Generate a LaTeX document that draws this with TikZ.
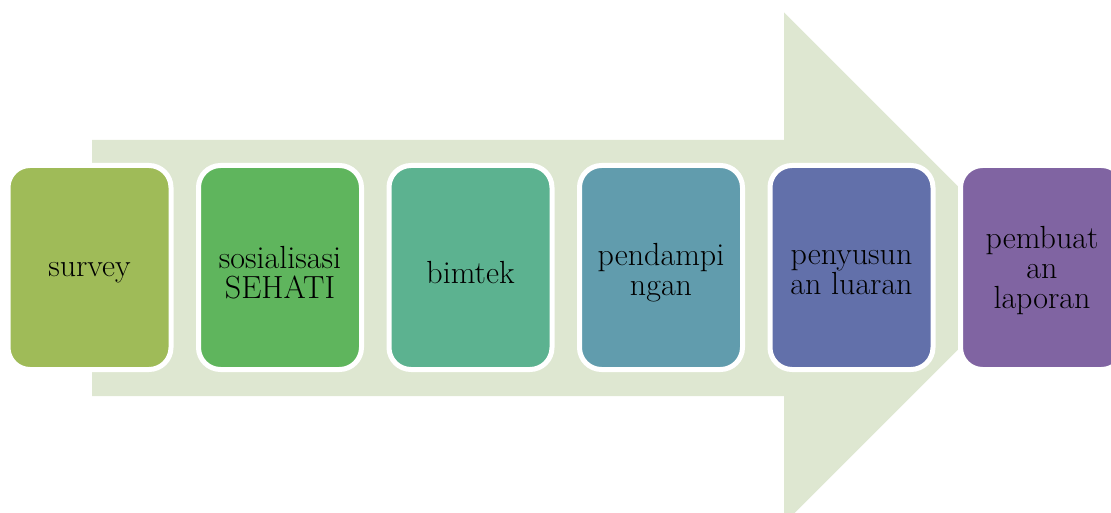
\documentclass[tikz,border=0pt]{standalone}
\usepackage{fontspec}
\begin{document}
\begin{tikzpicture}[x=1pt,y=-1pt,
  stepbox/.style={draw=white, line width=5pt, rounded corners=22pt,
    minimum width=163pt, minimum height=204pt, inner sep=0pt},
  steptext/.style={align=center, inner sep=0pt,
    font=\fontsize{32}{30}\selectfont, text=black}]
\definecolor{arrowbg}{HTML}{DEE7D1}
\definecolor{cA}{HTML}{9FBB58}
\definecolor{cB}{HTML}{5FB55D}
\definecolor{cC}{HTML}{5CB290}
\definecolor{cD}{HTML}{619CAD}
\definecolor{cE}{HTML}{6270AA}
\definecolor{cF}{HTML}{8064A2}
\useasboundingbox (0,0) rectangle (1111,513);
\clip (0,0) rectangle (1111,513);
% background arrow
\fill[arrowbg] (92,140) -- (784,140) -- (784,12.5) -- (1039.5,268) -- (784,523.5) -- (784,396) -- (92,396) -- cycle;
% steps
\node[stepbox, fill=cA] (s1) at (89.5,267.5) {};
\node[stepbox, fill=cB] (s2) at (280,267.5) {};
\node[stepbox, fill=cC] (s3) at (470.5,267.5) {};
\node[stepbox, fill=cD] (s4) at (661,267.5) {};
\node[stepbox, fill=cE] (s5) at (851.5,267.5) {};
\node[stepbox, fill=cF] (s6) at (1042,267.5) {};
\node[steptext] (t1) at ([yshift=-5pt]s1.center) {survey};
\node[steptext] (t2) at ([yshift=-5pt]s2.center) {sosialisasi\\SEHATI};
\node[steptext] (t3) at ([yshift=-5pt]s3.center) {bimtek};
\node[steptext] (t4) at ([yshift=-5pt]s4.center) {pendampi\\ngan};
\node[steptext] (t5) at ([yshift=-5pt]s5.center) {penyusun\\an luaran};
\node[steptext] (t6) at ([yshift=-3pt]s6.center) {pembuat\\an\\laporan};
\end{tikzpicture}
\end{document}
